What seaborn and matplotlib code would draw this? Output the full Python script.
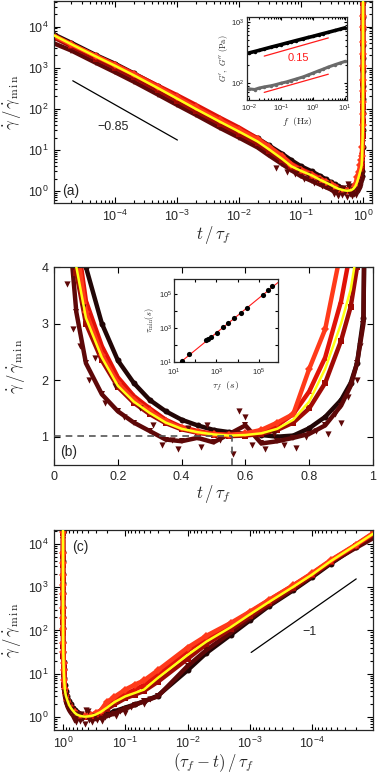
import numpy as np
import pandas as pd
import matplotlib
matplotlib.use("Agg")
import matplotlib.pyplot as plt
import seaborn as sns
from matplotlib.ticker import LogLocator, NullFormatter, FixedLocator

# ---------------- data ----------------
t_grid = [2e-6, 1e-5, 2e-5, 5e-5, 1e-4, 2e-4, 5e-4, 1e-3, 2e-3, 5e-3, 0.01, 0.02, 0.03, 0.05,
          0.07, 0.1, 0.15, 0.2, 0.25, 0.3, 0.35, 0.4, 0.45, 0.5, 0.55, 0.6, 0.65, 0.7, 0.75, 0.8,
          0.85, 0.9, 0.93, 0.95, 0.97, 0.99, 0.995, 0.998, 0.999, 0.9995, 0.9998, 0.9999,
          0.99995, 0.99998, 0.99999, 0.999996]

master_y = [21000, 6300, 3700, 1860, 1120, 660, 316, 178, 100, 48, 28, 16, 10.5, 6.0, 4.0, 3.1,
            2.4, 1.9, 1.62, 1.42, 1.25, 1.14, 1.08, 1.04, 1.02, 1.03, 1.06, 1.14, 1.3, 1.62, 2.2,
            3.0, 3.6, 4.3, 8.0, 27, 55, 120, 234, 447, 1020, 1950, 4000, 9300, 17800, 41000]

series_black = [22000, 6600, 4000, 2000, 1250, 730, 350, 200, 112, 54, 32, 19, 13, 8.0, 5.6, 4.0,
                3.0, 2.35, 1.95, 1.65, 1.45, 1.3, 1.2, 1.12, 1.08, 1.05, 1.03, 1.0, 1.02, 1.15, 1.35,
                1.65, 1.95, 2.3, 3.1, 12, 30, 80, 170, 360, 850, 1700, 3500, 8500, 17000, 40000]
series_maroon = [12000, 4000, 2600, 1300, 780, 460, 220, 125, 72, 34, 20, 11.5, 7.5, 4.5, 3.2, 2.3,
                 1.75, 1.45, 1.25, 1.1, 0.95, 0.92, 0.98, 0.9, 1.05, 1.2, 0.88, 0.92, 0.98, 1.05, 1.2,
                 1.55, 1.9, 2.3, 3.0, 15, 35, 90, 190, 380, 900, 1800, 3700, 8000, 14000, 30000]
series_darkred = [18000, 5600, 3300, 1650, 1000, 590, 280, 158, 89, 43, 25, 14.5, 9.6, 5.6, 3.9, 3.0,
                  2.35, 1.88, 1.6, 1.4, 1.24, 1.13, 1.07, 1.03, 1.01, 1.02, 1.05, 1.12, 1.25, 1.5, 1.95,
                  2.7, 3.3, 4.0, 6.5, 22, 48, 110, 215, 420, 980, 1900, 3900, 9000, 17000, 38000]
series_red = [20000, 6000, 3600, 1900, 1200, 720, 360, 215, 125, 60, 35, 19, 12.5, 7.0, 4.6, 3.4,
              2.6, 2.05, 1.72, 1.5, 1.3, 1.17, 1.1, 1.05, 1.03, 1.04, 1.08, 1.2, 1.4, 1.8, 2.4,
              3.4, 4.3, 5.5, 9.5, 34, 65, 140, 260, 490, 1100, 2050, 4100, 9300, 18000, 42000]
series_orange = [19000, 6200, 3700, 1900, 1150, 690, 335, 190, 108, 52, 31, 18, 12, 7.0, 4.4, 3.2,
                 2.45, 1.95, 1.65, 1.45, 1.27, 1.15, 1.08, 1.04, 1.03, 1.06, 1.12, 1.25, 1.4, 2.2, 2.9,
                 4.3, 5.6, 7.0, 12, 40, 75, 150, 270, 500, 1100, 2100, 4200, 9500, 18500, 43000]

maroon_scatter_t = [0.04, 0.06, 0.08, 0.09, 0.11, 0.13, 0.16, 0.19, 0.22, 0.27, 0.31, 0.34, 0.37,
                    0.39, 0.42, 0.46, 0.48, 0.52, 0.56, 0.58, 0.6, 0.62, 0.66, 0.69, 0.72, 0.76,
                    0.79, 0.82, 0.86, 0.88, 0.9, 0.92, 0.95, 0.96]
maroon_scatter_y = [3.7, 2.9, 2.6, 3.3, 2.0, 2.4, 1.6, 1.9, 1.35, 1.5, 1.2, 0.85, 0.95, 0.78, 1.15,
                    0.82, 1.2, 0.95, 0.7, 1.45, 1.35, 0.85, 0.78, 1.05, 0.85, 0.8, 1.0, 1.1, 1.05,
                    1.4, 1.25, 1.7, 2.0, 2.6]

series_values = [series_black, series_maroon, series_darkred, series_red, series_orange]
series_colors = ["#220606", "#5e0808", "#a00a05", "#e01208", "#ff3a1a"]
series_markers = ["o", "v", "s", "^", "D"]

guide_a_t = [2.1e-5, 1.02e-3]
guide_a_y = [480, 17.4]
guide_c_r = [9.5e-4, 1.95e-5]
guide_c_y = [31, 1550]

# inset (a): rheology
freq = [0.01, 0.015, 0.02, 0.03, 0.05, 0.07, 0.1, 0.15, 0.2, 0.3, 0.5, 0.7, 1, 1.5, 2, 3, 5, 7, 10]
G_storage = [310, 327, 340, 360, 387, 405, 425, 450, 468, 495, 530, 555, 580, 615, 640, 675, 725, 760, 800]
G_loss = [80, 78, 82, 86, 90, 94, 99, 104, 109, 116, 126, 135, 145, 158, 167, 182, 200, 212, 225]
slope_f = [0.03, 3]
slope_upper = [275, 546]
slope_lower = [70, 139]

# inset (b): tau_min vs tau_f
tau_f = [23.4, 51, 324, 389, 562, 1047, 2138, 3467, 6457, 13800, 27540, 158500, 275400, 426600]
tau_min = [11.5, 29.5, 195, 224, 309, 525, 1096, 1905, 4074, 7943, 15490, 95500, 166000, 295100]
fit_tau_f = [18, 900000]
fit_tau_min = [8.6, 560000]

# ---------------- style ----------------
sns.set_theme(style="ticks")
plt.rcParams["font.family"] = ["Liberation Sans", "DejaVu Sans"]
plt.rcParams["mathtext.fontset"] = "cm"
plt.rcParams["axes.linewidth"] = 0.9
plt.rcParams["xtick.direction"] = "in"
plt.rcParams["ytick.direction"] = "in"

fig = plt.figure(figsize=(3.82, 7.76), dpi=100)
axA = fig.add_axes([0.1414, 0.7384, 0.8325, 0.2603])
axB = fig.add_axes([0.1414, 0.4008, 0.8351, 0.2551])
axC = fig.add_axes([0.1414, 0.0593, 0.8351, 0.2577])

YLAB = r"$\dot{\gamma}\,/\,\dot{\gamma}_{\rm m\,i\,n}$"


def draw_series(ax, xfun):
    for vals, c, m in zip(series_values, series_colors, series_markers):
        df = pd.DataFrame({"x": xfun(np.array(t_grid)), "y": vals})
        sns.lineplot(data=df, x="x", y="y", ax=ax, color=c, lw=3.2, marker=m,
                     markersize=4.3, markeredgewidth=0, sort=False, estimator=None,
                     legend=False, zorder=2)
    dfn = pd.DataFrame({"x": xfun(np.array(maroon_scatter_t)), "y": maroon_scatter_y})
    sns.scatterplot(data=dfn, x="x", y="y", ax=ax, color="#5e0808", marker="v", s=20,
                    linewidth=0, legend=False, zorder=2)
    dfm = pd.DataFrame({"x": xfun(np.array(t_grid)), "y": master_y})
    sns.lineplot(data=dfm, x="x", y="y", ax=ax, color="#ffff14", lw=1.8, sort=False,
                 estimator=None, legend=False, zorder=5)


def log_ticks(ax, xmajor=None, ymajor=None):
    for axis, maj in ((ax.xaxis, xmajor), (ax.yaxis, ymajor)):
        if maj is None:
            axis.set_major_locator(LogLocator(base=10, numticks=30))
        else:
            axis.set_major_locator(FixedLocator(maj))
        axis.set_minor_locator(LogLocator(base=10, subs=np.arange(2, 10), numticks=60))
        axis.set_minor_formatter(NullFormatter())


def tick_style(ax, size=9):
    ax.tick_params(which="both", direction="in", top=True, right=True, labelsize=size,
                   width=0.8, color="black")
    ax.tick_params(which="major", length=4, pad=4)
    ax.tick_params(which="minor", length=2)


ident = lambda a: a
remain = lambda a: 1.0 - a
decades = [1e-4, 1e-3, 1e-2, 1e-1, 1e0]
ydecades = [1e0, 1e1, 1e2, 1e3, 1e4]

# ---- panel (a)
draw_series(axA, ident)
sns.lineplot(x=guide_a_t, y=guide_a_y, ax=axA, color="black", lw=0.9, sort=False, estimator=None)
axA.set_xscale("log")
axA.set_yscale("log")
axA.set_xlim(10 ** -4.98, 10 ** 0.145)
axA.set_ylim(10 ** -0.29, 10 ** 4.62)
log_ticks(axA, decades, ydecades)
tick_style(axA)
axA.set_xlabel(r"$t\,/\,\tau_f$", fontsize=12, labelpad=0)
axA.set_ylabel(YLAB, fontsize=12, labelpad=3)
axA.text(9.3e-5, 36, "\u22120.85", fontsize=9, ha="center", va="center")
axA.text(0.025, 0.025, "(a)", transform=axA.transAxes, fontsize=10, ha="left", va="bottom")

# ---- panel (b)
draw_series(axB, ident)
axB.plot([0, 0.557], [1.02, 1.02], color="#555555", lw=1.2, ls=(0, (4, 3)), zorder=6)
axB.plot([0.557, 0.557], [0.5, 1.02], color="#555555", lw=1.2, ls=(0, (4, 3)), zorder=6)
axB.set_xlim(0, 1)
axB.set_ylim(0.5, 4)
axB.set_xticks([0, 0.2, 0.4, 0.6, 0.8, 1])
axB.set_xticklabels(["0", "0.2", "0.4", "0.6", "0.8", "1"])
axB.set_yticks([1, 2, 3, 4])
axB.set_yticklabels(["1", "2", "3", "4"])
tick_style(axB)
axB.set_xlabel(r"$t\,/\,\tau_f$", fontsize=12, labelpad=0)
axB.set_ylabel(YLAB, fontsize=12, labelpad=10)
axB.text(0.02, 0.03, "(b)", transform=axB.transAxes, fontsize=10, ha="left", va="bottom")

# ---- panel (c)
draw_series(axC, remain)
sns.lineplot(x=guide_c_r, y=guide_c_y, ax=axC, color="black", lw=0.9, sort=False, estimator=None)
axC.set_xscale("log")
axC.set_yscale("log")
axC.set_xlim(10 ** 0.145, 10 ** -4.98)
axC.set_ylim(10 ** -0.3, 10 ** 4.32)
log_ticks(axC, decades, ydecades)
tick_style(axC)
axC.set_xlabel(r"$(\tau_f - t)\,/\,\tau_f$", fontsize=12, labelpad=0)
axC.set_ylabel(YLAB, fontsize=12, labelpad=3)
axC.text(1.1e-4, 93, "\u22121", fontsize=9, ha="center", va="center")
axC.text(0.056, 0.95, "(c)", transform=axC.transAxes, fontsize=10, ha="left", va="top")

# ---- inset (a)
insA = fig.add_axes([0.6466, 0.8711, 0.2618, 0.107])
sns.lineplot(x=freq, y=G_storage, ax=insA, color="black", lw=2.6, marker="o", markersize=2.5,
             markeredgewidth=0, sort=False, estimator=None)
sns.lineplot(x=freq, y=G_loss, ax=insA, color="#6a6a6a", lw=2.2, marker="o", markersize=2.5,
             markeredgewidth=0, sort=False, estimator=None)
sns.lineplot(x=slope_f, y=slope_upper, ax=insA, color="#ff1a1a", lw=0.9, sort=False, estimator=None)
sns.lineplot(x=slope_f, y=slope_lower, ax=insA, color="#ff1a1a", lw=0.9, sort=False, estimator=None)
insA.set_xscale("log")
insA.set_yscale("log")
insA.set_xlim(10 ** -2.06, 10 ** 1.06)
insA.set_ylim(10 ** 1.72, 10 ** 3.08)
log_ticks(insA, [1e-2, 1e-1, 1e0, 1e1], [1e2, 1e3])
tick_style(insA, size=5.5)
insA.tick_params(which="major", length=2.5, pad=2)
insA.tick_params(which="minor", length=1.3)
insA.text(0.36, 257, "0.15", color="#ff1a1a", fontsize=8, ha="center", va="center")
insA.set_xlabel(r"$f\ \ ({\rm Hz})$", fontsize=7, labelpad=1)
insA.set_ylabel(r"$G',\ G''\ ({\rm Pa})$", fontsize=6, labelpad=1)

# ---- inset (b)
insB = fig.add_axes([0.4555, 0.5335, 0.2723, 0.107])
sns.lineplot(x=fit_tau_f, y=fit_tau_min, ax=insB, color="#ff1a1a", lw=0.8, sort=False,
             estimator=None, zorder=1)
sns.scatterplot(x=tau_f, y=tau_min, ax=insB, color="black", s=14, linewidth=0, zorder=3)
insB.set_xscale("log")
insB.set_yscale("log")
insB.set_xlim(10, 10 ** 5.9)
insB.set_ylim(10, 10 ** 5.9)
for axis in (insB.xaxis, insB.yaxis):
    axis.set_major_locator(FixedLocator([1e1, 1e3, 1e5]))
    axis.set_minor_locator(FixedLocator([1e2, 1e4]))
    axis.set_minor_formatter(NullFormatter())
tick_style(insB, size=5.5)
insB.tick_params(which="major", length=2.5)
insB.tick_params(axis="x", which="major", pad=3.5)
insB.tick_params(axis="y", which="major", pad=1.5)
insB.tick_params(which="minor", length=2.5)
insB.set_xlabel(r"$\tau_f\ \ (s)$", fontsize=7, labelpad=1)
insB.set_ylabel(r"$\tau_{\rm min}(s)$", fontsize=6, labelpad=2)

fig.savefig("out.png", dpi=100)
